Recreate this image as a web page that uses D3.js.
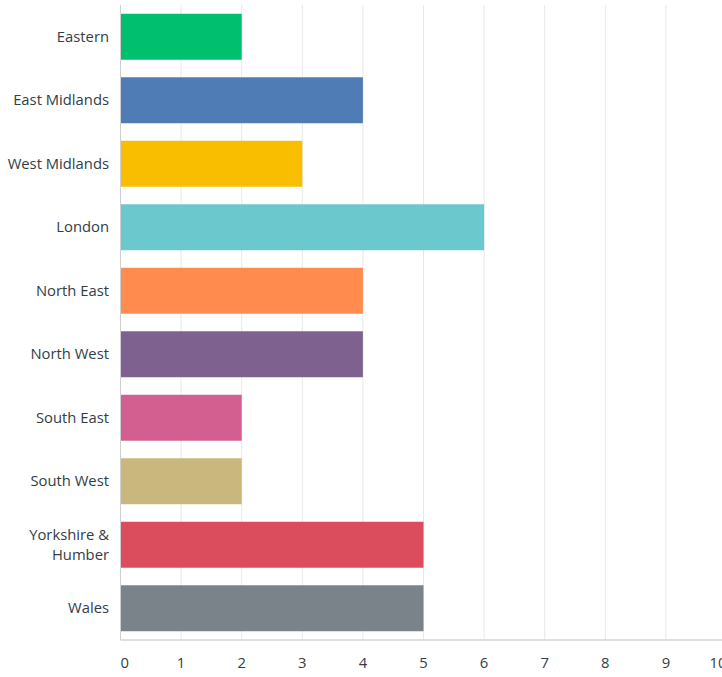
<!DOCTYPE html>
<html><head><meta charset="utf-8">
<script src="https://cdn.jsdelivr.net/npm/d3@7/dist/d3.min.js"></script>
<style>body{margin:0;background:#fff;} svg{display:block;font-family:"Open Sans",sans-serif;}</style>
</head><body>
<svg id="chart" width="722" height="677"></svg>
<script>
const categories = ["Eastern","East Midlands","West Midlands","London","North East","North West","South East","South West","Yorkshire & Humber","Wales"];
const labelLines = [["Eastern"],["East Midlands"],["West Midlands"],["London"],["North East"],["North West"],["South East"],["South West"],["Yorkshire &","Humber"],["Wales"]];
const values = [2,4,3,6,4,4,2,2,5,5];
const colors = ["#00bf6f","#507cb6","#f9be00","#6bc8cd","#ff8b4f","#7f6190","#d25f90","#c9b77d","#db4d5d","#7b838a"];
const ticks = [0,1,2,3,4,5,6,7,8,9,10];

(function(){
const svg = d3.select("#chart");
const mLeft = 120.5, mTop = 5, mBottom = 640;
const x = d3.scaleLinear().domain([0,10]).range([mLeft, 726.5]);
const y = d3.scaleBand().domain(categories).range([mTop, mBottom]).paddingInner(0.276).paddingOuter(0.138);

// gridlines
svg.append("g").selectAll("line").data(ticks.slice(1)).join("line")
  .attr("x1", d => x(d)).attr("x2", d => x(d))
  .attr("y1", mTop).attr("y2", mBottom)
  .attr("stroke", "#e8e8e8").attr("stroke-width", 1);

// bars
svg.append("g").selectAll("rect").data(categories).join("rect")
  .attr("x", x(0) + 0.5)
  .attr("y", d => y(d))
  .attr("width", (d,i) => x(values[i]) - x(0) - 0.5)
  .attr("height", y.bandwidth())
  .attr("fill", (d,i) => colors[i]);

// axis lines
svg.append("line").attr("x1", mLeft).attr("x2", mLeft).attr("y1", mTop).attr("y2", mBottom)
  .attr("stroke", "#cfcfcf").attr("stroke-width", 1);
svg.append("line").attr("x1", mLeft).attr("x2", 722).attr("y1", mBottom).attr("y2", mBottom)
  .attr("stroke", "#d6d6d6").attr("stroke-width", 1.5);

// category labels
const lab = svg.append("g").selectAll("text").data(categories).join("text")
  .attr("text-anchor", "end")
  .attr("font-size", 14.8)
  .attr("fill", "#333d47");
lab.each(function(d,i){
  const lines = labelLines[i];
  const cy = y(d) + y.bandwidth()/2;
  const lh = 20;
  const t = d3.select(this);
  lines.forEach((ln, k) => {
    t.append("tspan").attr("x", 109)
      .attr("y", cy + (k - (lines.length-1)/2) * lh)
      .attr("dy", "0.35em").text(ln);
  });
});

// tick labels
svg.append("g").selectAll("text").data(ticks).join("text")
  .attr("x", d => x(d))
  .attr("y", 663).attr("dy", "0.35em")
  .attr("text-anchor", (d,i) => i === 0 ? "start" : (i === ticks.length - 1 ? "end" : "middle"))
  .attr("font-size", 14.8).attr("fill", "#333d47")
  .text(d => d);
})();
</script>
</body></html>
